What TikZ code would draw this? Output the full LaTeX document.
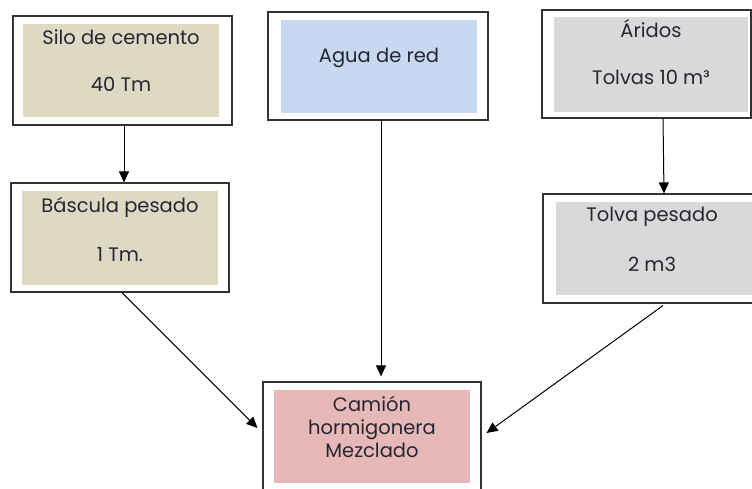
\documentclass[tikz,border=0pt]{standalone}
\usepackage{fontspec}
\setmainfont{Poppins}
\usetikzlibrary{arrows.meta}
\definecolor{tanfill}{HTML}{DDD9C3}
\definecolor{bluefill}{HTML}{C6D9F1}
\definecolor{grayfill}{HTML}{D9D9D9}
\definecolor{pinkfill}{HTML}{E6B9B8}
\definecolor{border}{HTML}{333333}
\definecolor{txt}{HTML}{262632}
\tikzset{
  outerbox/.style={draw=border, line width=1.1pt, fill=white, inner sep=0pt, minimum width=#1},
  innerfill/.style={fill=#1, draw=none},
  lbl/.style={text=txt, font=\fontsize{19.5}{23}\selectfont, inner sep=0pt, anchor=base},
  arr/.style={draw=black, line width=1pt, -{Triangle[length=11pt,width=10pt]}}
}
\begin{document}
\begin{tikzpicture}[x=1pt,y=-1pt]
\useasboundingbox (0,0) rectangle (752,489);
\clip (0,0) rectangle (752,489);
% outer boxes
\node[outerbox=219pt, minimum height=109pt] (silo) at (122.5,70.5) {};
\node[outerbox=220pt, minimum height=108pt] (agua) at (378,66) {};
\node[outerbox=209pt, minimum height=108pt] (arid) at (646.5,64) {};
\node[outerbox=218pt, minimum height=109pt] (bas) at (120,237.5) {};
\node[outerbox=219pt, minimum height=109pt] (tolva) at (652.5,248.5) {};
\node[outerbox=218pt, minimum height=113pt] (cam) at (372,438.5) {};
% inner fills
\fill[innerfill=tanfill] (23,24) rectangle (219,117);
\fill[innerfill=bluefill] (281,20) rectangle (477,113);
\fill[innerfill=grayfill] (554,17) rectangle (748,112);
\fill[innerfill=tanfill] (22,191) rectangle (218,285);
\fill[innerfill=grayfill] (556,202) rectangle (752,295);
\fill[innerfill=pinkfill] (274,390) rectangle (470,483);
% texts
\node[lbl] (t1a) at (121,45) {Silo de cemento};
\node[lbl] (t1b) at (121,92) {40 Tm};
\node[lbl] (t2) at (379,63) {Agua de red};
\node[lbl] (t3a) at (651,38) {Áridos};
\node[lbl] (t3b) at (651,85) {Tolvas 10 m³};
\node[lbl] (t4a) at (120,212) {Báscula pesado};
\node[lbl] (t4b) at (120,261) {1 Tm.};
\node[lbl] (t5a) at (652,222) {Tolva pesado};
\node[lbl] (t5b) at (652,271) {2 m3};
\node[lbl] (t6a) at (372,411) {Camión};
\node[lbl] (t6b) at (372,434) {hormigonera};
\node[lbl] (t6c) at (372,457) {Mezclado};
% arrows
\draw[arr] ([xshift=1.5pt]silo.south) -- ([xshift=4pt]bas.north);
\draw[arr] ([xshift=3pt]agua.south) -- ([xshift=9pt,yshift=5pt]cam.north);
\draw[arr] ([xshift=16.5pt]arid.south) -- ([xshift=11.5pt]tolva.north);
\draw[arr] ([xshift=2pt]bas.south) -- ([xshift=-5pt,yshift=10.5pt]cam.west);
\draw[arr] ([xshift=10.5pt,yshift=-2pt]tolva.south) -- ([xshift=5pt,yshift=5.5pt]cam.east);
\end{tikzpicture}
\end{document}
